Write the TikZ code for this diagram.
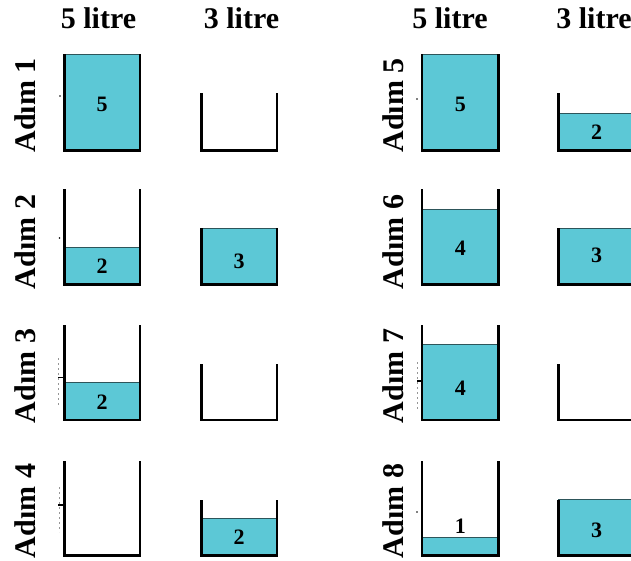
\documentclass[tikz,border=0pt]{standalone}
\usepackage{fontspec}
\setmainfont{Liberation Serif}
\definecolor{waterc}{RGB}{92,200,214}
\definecolor{wline}{RGB}{45,85,90}
\definecolor{ghost}{RGB}{150,150,150}
% #1 name, #2 xl, #3 xr, #4 bottom, #5 wall top, #6 water top, #7 number, #8 number y
\newcommand{\JugWater}[8]{%
  \draw[waterbox] (#2,#4) rectangle (#3,#6);
  \draw[wall] (#2,#5) -- (#2,#4) -- (#3,#4) -- (#3,#5);
  \node[num] (#1) at ({(#2+#3)/2},#8) {#7};
}
% #1 xl, #2 xr, #3 bottom, #4 wall top
\newcommand{\JugEmpty}[4]{%
  \draw[wall] (#1,#4) -- (#1,#3) -- (#2,#3) -- (#2,#4);
}
\begin{document}
\begin{tikzpicture}[x=1pt,y=-1pt,
  wall/.style={line width=2.6pt, line join=miter},
  waterbox/.style={fill=waterc, draw=wline, line width=0.9pt},
  head/.style={font=\fontsize{30}{30}\selectfont\bfseries, anchor=base, inner sep=0pt},
  steplabel/.style={font=\fontsize{30}{30}\selectfont\bfseries, rotate=90, anchor=base, inner sep=0pt},
  num/.style={font=\fontsize{22}{22}\selectfont\bfseries, inner sep=0pt},
  ghosttick/.style={line width=1.2pt},
  ghostdash/.style={ghost, line width=0.8pt, dash pattern=on 2pt off 3pt}
]
\useasboundingbox (0,0) rectangle (631,560);
\clip (0,0) rectangle (631,560);

% headings
\node[head] (h1) at (98.5,28) {5 litre};
\node[head] (h2) at (241.5,28) {3 litre};
\node[head] (h3) at (450,28) {5 litre};
\node[head] (h4) at (594,28) {3 litre};

% step labels
\node[steplabel] (s1) at (35,105.5) {Adım 1};
\node[steplabel] (s2) at (35,242) {Adım 2};
\node[steplabel] (s3) at (35,376) {Adım 3};
\node[steplabel] (s4) at (35,511) {Adım 4};
\node[steplabel] (s5) at (403,105.5) {Adım 5};
\node[steplabel] (s6) at (403,242) {Adım 6};
\node[steplabel] (s7) at (403,376) {Adım 7};
\node[steplabel] (s8) at (403,511) {Adım 8};

% faint marks left of the 5 litre jugs
\fill (60,96) circle (0.9pt);
\fill (59.5,238) circle (0.9pt);
\draw[ghostdash] (58.5,358) -- (58.5,405);
\draw[ghosttick] (58,377.5) -- (64,377.5);
\draw[ghostdash] (59,487) -- (59,532);
\draw[ghosttick] (58,505) -- (64,505);
\fill (417,99) circle (0.9pt);
\draw[ghostdash] (417.5,362) -- (417.5,410);
\draw[ghosttick] (417,381) -- (422,381);
\fill (417,512) circle (0.9pt);

% Row 1
\JugWater{w1a}{64.5}{139.8}{150.5}{54}{54}{5}{104.5}
\JugEmpty{201.5}{276.8}{150.5}{93}
% Row 2
\JugWater{w2a}{64.5}{139.8}{284.5}{189}{247}{2}{266}
\JugWater{w2b}{201.5}{276.8}{284.5}{228}{228}{3}{261}
% Row 3
\JugWater{w3a}{64.5}{139.8}{420}{325}{382}{2}{402}
\JugEmpty{201.5}{276.8}{420}{364}
% Row 4
\JugEmpty{64.5}{139.8}{555.5}{461}
\JugWater{w4b}{201.5}{276.8}{555.5}{500}{518}{2}{537}
% Row 5
\JugWater{w5a}{422}{498.5}{150.5}{54}{54}{5}{104.5}
\JugWater{w5b}{558.7}{634.5}{150.5}{93}{113}{2}{132}
% Row 6
\JugWater{w6a}{422}{498.5}{284.5}{189}{209}{4}{248}
\JugWater{w6b}{558.7}{634.5}{284.5}{228}{228}{3}{255}
% Row 7
\JugWater{w7a}{422}{498.5}{420}{325}{344}{4}{388}
\JugEmpty{558.7}{634.5}{420}{364}
% Row 8
\JugWater{w8a}{422}{498.5}{555.5}{461}{537.5}{1}{526}
\JugWater{w8b}{558.7}{634.5}{555.5}{499.5}{499.5}{3}{530}
\end{tikzpicture}
\end{document}
